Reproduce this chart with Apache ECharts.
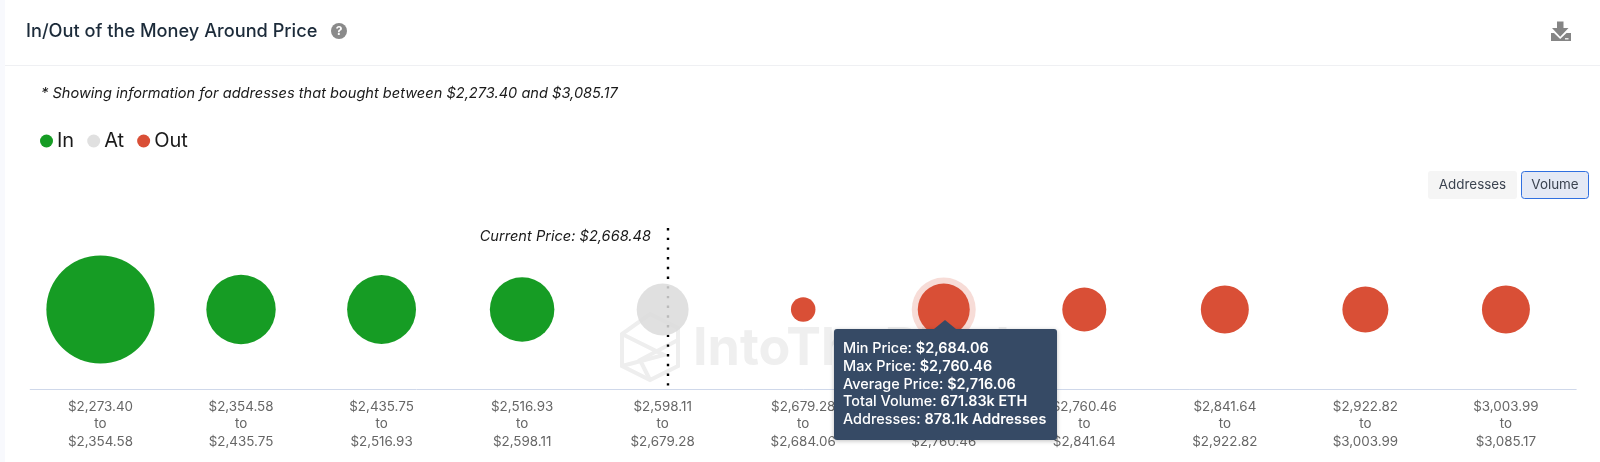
<!DOCTYPE html>
<html><head><meta charset="utf-8">
<style>html,body{margin:0;padding:0;background:#f8f9fd;overflow:hidden}#c{width:1600px;height:462px}</style>
<script src="https://cdn.jsdelivr.net/npm/echarts@6/dist/echarts.min.js"></script>
</head><body><div id="c"></div>
<script>
const rangeStart = ['$2,273.40','$2,354.58','$2,435.75','$2,516.93','$2,598.11','$2,679.28','$2,684.06','$2,760.46','$2,841.64','$2,922.82','$3,003.99'];
const rangeEnd   = ['$2,354.58','$2,435.75','$2,516.93','$2,598.11','$2,679.28','$2,684.06','$2,760.46','$2,841.64','$2,922.82','$3,003.99','$3,085.17'];
const volumeK    = [2910,1197,1180,1034,670,149,671.83,481,572,526,572];
const status     = ['In','In','In','In','At','Out','Out','Out','Out','Out','Out'];
const currentPrice = '$2,668.48';
const currentPriceBand = 4.538;
const hovered = {index:6, min:'$2,684.06', max:'$2,760.46', avg:'$2,716.06', vol:'671.83k ETH', addr:'878.1k Addresses'};

const GREEN='#169c24', GREY='#dbdbdb', RED='#d94f36';
const FONT='Inter, sans-serif';
const cats = rangeStart.map((s,i)=>s+'\nto\n'+rangeEnd[i]);
const dia = v => 2.006*Math.sqrt(v);
const pick = k => volumeK.map((v,i)=>status[i]===k?[i,0,v]:null).filter(Boolean);
const scatter=(name,color,opacity)=>({name,type:'scatter',data:pick(name),z:5,
  symbolSize:d=>dia(d[2]),itemStyle:{color,opacity:opacity||1},emphasis:{disabled:true}});

const chart=echarts.init(document.getElementById('c'),null,{renderer:'canvas'});
chart.setOption({
  animation:false,
  backgroundColor:'transparent',
  textStyle:{fontFamily:FONT},
  grid:{left:30.2,width:1546,top:228,height:161,containLabel:false},
  title:[
    {text:'In/Out of the Money Around Price',left:26,top:23,padding:0,textStyle:{fontFamily:FONT,fontSize:18.2,fontWeight:500,color:'#1c2b3a'}},
    {text:'* Showing information for addresses that bought between $2,273.40 and $3,085.17',left:41,top:86,padding:0,textStyle:{fontFamily:FONT,fontSize:14.6,fontWeight:400,fontStyle:'italic',color:'#1a1a1a'}}
  ],
  legend:{data:['In','At','Out'],left:40,top:131,padding:0,icon:'circle',itemWidth:13,itemHeight:13,itemGap:13,
    selectedMode:false,textStyle:{fontFamily:FONT,fontSize:20,color:'#1a1a1a',padding:[0,0,0,-1]}},
  xAxis:[
    {type:'category',data:cats,axisTick:{show:false},axisLine:{onZero:false,lineStyle:{color:'#cfd8ea',width:1}},
     axisLabel:{interval:0,color:'#666',fontFamily:FONT,fontSize:13.4,lineHeight:17.5,margin:9},splitLine:{show:false}},
    {type:'value',min:0,max:11,show:false}
  ],
  yAxis:{type:'value',min:-79.5,max:81.5,show:false},
  tooltip:{trigger:'item',alwaysShowContent:true,transitionDuration:0,
    backgroundColor:'#364a65',borderColor:'#364a65',borderWidth:0,padding:0,
    extraCssText:'border-radius:3px;box-shadow:0 1px 4px rgba(0,0,0,.25);overflow:visible;',
    position:function(){return [834,329];},
    formatter:function(){
      const b=s=>'<b style="font-weight:600">'+s+'</b>';
      return '<div style="position:relative;width:223px;height:111px;box-sizing:border-box;padding:10px 9px;color:#fff;font:500 14.4px/17.8px Inter,sans-serif;white-space:nowrap">'+
       '<div style="position:absolute;left:100px;top:-9px;width:0;height:0;border-left:11px solid transparent;border-right:11px solid transparent;border-bottom:9px solid #364a65"></div>'+
       'Min Price: '+b(hovered.min)+'<br>Max Price: '+b(hovered.max)+'<br>Average Price: '+b(hovered.avg)+'<br>Total Volume: '+b(hovered.vol)+'<br>Addresses: '+b(hovered.addr)+'</div>';
    }},
  series:[
    {name:'Current Price',type:'line',xAxisIndex:1,silent:true,z:3,symbol:'none',tooltip:{show:false},
     data:[[currentPriceBand,81.5],[currentPriceBand,-79.5]],
     lineStyle:{color:'#000',width:2.4,type:[2.4,7.3]}},
    {name:'hover ring',type:'scatter',silent:true,z:4,tooltip:{show:false},
     data:[[hovered.index,0,volumeK[hovered.index]]],symbolSize:d=>dia(d[2])+12,
     itemStyle:{color:'rgba(217,79,54,0.25)'},emphasis:{disabled:true}},
    scatter('In',GREEN),
    scatter('At',GREY,0.85),
    scatter('Out',RED)
  ],
  graphic:[
    {type:'rect',z:-10,silent:true,shape:{x:5,y:-10,width:1610,height:490,r:8},style:{fill:'#fff'}},
    {type:'rect',z:-9,silent:true,shape:{x:5,y:65,width:1600,height:1},style:{fill:'#eff0f3'}},
    // help icon
    {type:'circle',z:10,shape:{cx:339,cy:31,r:8},style:{fill:'#8a8a8a'}},
    {type:'text',z:11,x:339,y:31.5,style:{text:'?',align:'center',verticalAlign:'middle',fill:'#fff',font:'700 12px '+FONT}},
    // download icon
    {type:'polygon',z:10,shape:{points:[[1557,21.5],[1563.5,21.5],[1563.5,28],[1568.5,28],[1560.2,36.7],[1552,28],[1557,28]]},style:{fill:'#858585'}},
    {type:'polygon',z:10,shape:{points:[[1551,33],[1554,33],[1560.2,39],[1566.5,33],[1571,33],[1571,41],[1551,41]]},style:{fill:'#858585'}},
    {type:'rect',z:11,shape:{x:1565,y:38,width:3.5,height:1.5},style:{fill:'#e8e8e8'}},
    // buttons
    {type:'rect',z:10,shape:{x:1428,y:171,width:89,height:28,r:3},style:{fill:'#f5f5f5'}},
    {type:'text',z:11,x:1472.5,y:185,style:{text:'Addresses',align:'center',verticalAlign:'middle',fill:'#3b4350',font:'400 13.4px '+FONT}},
    {type:'rect',z:10,shape:{x:1521.5,y:171.5,width:67,height:27,r:3},style:{fill:'#e4e9f5',stroke:'#2f6fe0',lineWidth:1}},
    {type:'text',z:11,x:1555,y:185,style:{text:'Volume',align:'center',verticalAlign:'middle',fill:'#3b4350',font:'400 13.4px '+FONT}},
    // current price label
    {type:'text',z:11,x:651,y:237,style:{text:'Current Price: '+currentPrice,align:'right',verticalAlign:'middle',fill:'#1a1a1a',font:'italic 400 14.6px '+FONT}},
    // watermark
    {type:'text',z:1,silent:true,x:693,y:349.5,style:{text:'IntoTheBlock',verticalAlign:'middle',fill:'#efefef',font:'700 52px '+FONT}},
    {type:'polygon',z:1,silent:true,shape:{points:[[650,314],[678,328],[678,366],[650,380],[622,366],[622,334]]},style:{fill:'none',stroke:'#eeeeee',lineWidth:4}},
    {type:'polyline',z:1,silent:true,shape:{points:[[622,334],[664,355],[622,366]]},style:{fill:'none',stroke:'#eeeeee',lineWidth:4}},
    {type:'polyline',z:1,silent:true,shape:{points:[[678,340],[640,360],[650,380]]},style:{fill:'none',stroke:'#eeeeee',lineWidth:4}}
  ]
});
const seriesIdx=4, dataIdx=pick('Out').findIndex(d=>d[0]===hovered.index);
chart.dispatchAction({type:'showTip',seriesIndex:seriesIdx,dataIndex:dataIdx});
</script></body></html>
